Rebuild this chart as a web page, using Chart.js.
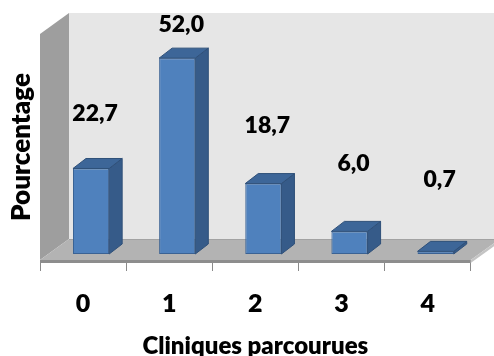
<!DOCTYPE html>
<html>
<head>
<meta charset="utf-8">
<script src="https://cdn.jsdelivr.net/npm/chart.js@4.4.1/dist/chart.umd.min.js"></script>
<style>
  html, body { margin: 0; padding: 0; background: #ffffff; }
  canvas { display: block; }
</style>
</head>
<body>
<canvas id="chart" width="494" height="356"></canvas>
<script>
// Data
const categories = ['0', '1', '2', '3', '4'];
const pourcentages = [22.7, 52.0, 18.7, 6.0, 0.7];
const valueAxisMax = 60;
const xTitle = 'Cliniques parcourues';
const yTitle = 'Pourcentage';

// Look
const FONT = 'Lato, "Open Sans", sans-serif';
const WEIGHT = '800';
const LABEL_SIZE = 23;
const BOX_DEPTH = { x: 29, y: -21 };   // oblique depth of walls and floor
const BAR_SHIFT = { x: 8, y: -6 };     // bars stand a little behind the front edge
const BAR_DEPTH = { x: 13, y: -10 };   // depth of each column

function poly(ctx, pts, fill, stroke) {
  ctx.beginPath();
  ctx.moveTo(pts[0][0], pts[0][1]);
  for (let i = 1; i < pts.length; i++) ctx.lineTo(pts[i][0], pts[i][1]);
  ctx.closePath();
  if (fill) { ctx.fillStyle = fill; ctx.fill(); }
  if (stroke) { ctx.strokeStyle = stroke; ctx.lineWidth = 1; ctx.stroke(); }
}

const box3d = {
  id: 'box3d',
  beforeDatasetsDraw(chart) {
    const { ctx, chartArea: a } = chart;
    const dx = BOX_DEPTH.x, dy = BOX_DEPTH.y;
    ctx.save();
    // back wall
    poly(ctx, [[a.left + dx, a.top + dy], [a.right + dx + 30, a.top + dy],
               [a.right + dx + 30, a.bottom + dy], [a.left + dx, a.bottom + dy]], '#e6e6e6');
    // side wall
    poly(ctx, [[a.left, a.top], [a.left + dx, a.top + dy],
               [a.left + dx, a.bottom + dy], [a.left, a.bottom]], '#9e9e9e');
    // floor
    poly(ctx, [[a.left, a.bottom], [a.right, a.bottom],
               [a.right + dx, a.bottom + dy], [a.left + dx, a.bottom + dy]], '#b3b3b3');
    ctx.strokeStyle = '#a2a2a2';
    ctx.lineWidth = 1;
    ctx.beginPath();
    ctx.moveTo(a.left + dx, a.bottom + dy + 0.5);
    ctx.lineTo(a.right + dx + 30, a.bottom + dy + 0.5);
    ctx.stroke();
    // floor thickness
    poly(ctx, [[a.left, a.bottom], [a.right, a.bottom],
               [a.right, a.bottom + 3], [a.left, a.bottom + 3]], '#8d8d8d');
    poly(ctx, [[a.right, a.bottom], [a.right + dx, a.bottom + dy],
               [a.right + dx, a.bottom + dy + 3], [a.right, a.bottom + 3]], '#c4c4c4');
    ctx.restore();
    // columns are drawn in the plane slightly behind the front edge
    ctx.save();
    ctx.translate(BAR_SHIFT.x, BAR_SHIFT.y);
  },
  afterDatasetsDraw(chart) {
    const { ctx } = chart;
    const meta = chart.getDatasetMeta(0);
    const dx = BAR_DEPTH.x, dy = BAR_DEPTH.y;
    meta.data.forEach(bar => {
      const { x, y, base, width } = bar.getProps(['x', 'y', 'base', 'width'], true);
      const l = x - width / 2, r = x + width / 2;
      // side face
      poly(ctx, [[r, y], [r + dx, y + dy], [r + dx, base + dy], [r, base]], '#365b89', '#2f5079');
      // top face
      poly(ctx, [[l, y], [l + dx, y + dy], [r + dx, y + dy], [r, y]], '#3d6698', '#2f5079');
    });
    ctx.restore();

    // value labels
    const ys = chart.scales.yLabel;
    ctx.save();
    ctx.font = `${WEIGHT} ${LABEL_SIZE}px ${FONT}`;
    ctx.fillStyle = '#000000';
    ctx.textAlign = 'center';
    ctx.textBaseline = 'alphabetic';
    meta.data.forEach((bar, i) => {
      const v = pourcentages[i];
      const txt = v.toFixed(1).replace('.', ',');
      ctx.fillText(txt, bar.x + BAR_SHIFT.x + 4, ys.getPixelForValue(v) + 0.36 * LABEL_SIZE);
    });
    ctx.restore();
  }
};

new Chart(document.getElementById('chart'), {
  type: 'bar',
  data: {
    labels: categories,
    datasets: [{
      data: pourcentages,
      backgroundColor: '#4f81bd',
      borderColor: '#3a6294',
      borderWidth: 1,
      borderSkipped: false,
      categoryPercentage: 1,
      barPercentage: 0.42,
      clip: false
    }]
  },
  options: {
    responsive: false,
    animation: false,
    devicePixelRatio: 1,
    layout: { padding: { top: 34, right: 23.3, bottom: 0, left: 0 } },
    plugins: { legend: { display: false }, tooltip: { enabled: false } },
    scales: {
      x: {
        grid: { display: true, drawOnChartArea: false, drawTicks: true, tickLength: 11, color: '#8a8a8a' },
        border: { display: false },
        ticks: { color: '#000000', padding: 18, font: { family: FONT, size: 25, weight: WEIGHT } },
        title: {
          display: true, text: xTitle, color: '#000000',
          font: { family: FONT, size: 24, weight: WEIGHT, lineHeight: 0.85 },
          padding: { top: 0, bottom: 0 }
        },
        afterFit(scale) { scale.height = 96; }
      },
      y: {
        min: 0, max: valueAxisMax,
        grid: { display: false, drawTicks: false },
        border: { display: false },
        ticks: { display: false },
        title: {
          display: true, text: yTitle, color: '#000000',
          font: { family: FONT, size: 26, weight: WEIGHT },
          padding: { top: 6, bottom: 0 }
        },
        afterFit(scale) { scale.width = 40; }
      },
      yLabel: {
        type: 'linear', position: 'left', display: false,
        min: -25.9, max: 48.5
      }
    }
  },
  plugins: [box3d]
});
</script>
</body>
</html>
